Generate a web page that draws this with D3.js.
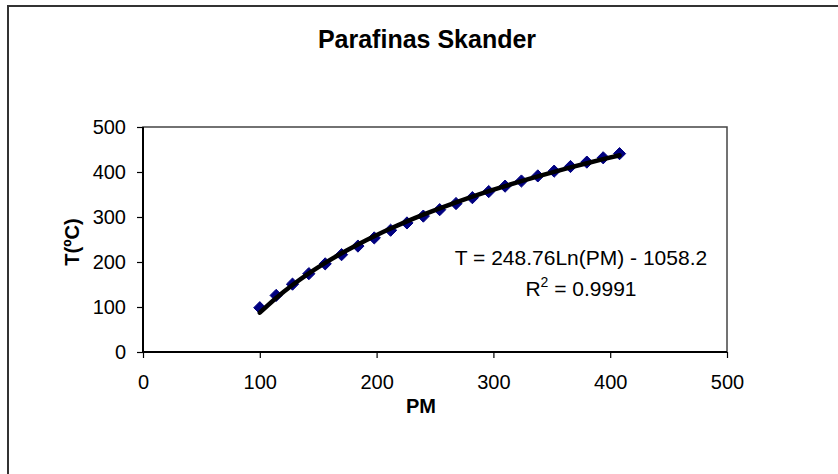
<!DOCTYPE html>
<html>
<head>
<meta charset="utf-8">
<script src="https://d3js.org/d3.v7.min.js"></script>
<style>
  html, body { margin: 0; padding: 0; background: #fff; }
  svg { display: block; }
  text { font-family: "Liberation Sans", Arial, sans-serif; fill: #000; }
</style>
</head>
<body>
<svg id="chart" width="838" height="474"></svg>
<script>
// ---- data ----
const chartTitle = "Parafinas Skander";
const xTitle = "PM";
const yTitle = "T(ºC)";
const pm = [100, 114, 128, 142, 156, 170, 184, 198, 212, 226, 240, 254, 268, 282, 296, 310, 324, 338, 352, 366, 380, 394, 408];
const temp = [98.4, 125.7, 150.8, 174.1, 195.9, 216.3, 235.4, 253.5, 270.6, 286.8, 302.0, 316.3, 329.9, 343.0, 356.5, 368.6, 380.0, 391.3, 401.9, 412.2, 422.0, 431.6, 440.8];
const xTicks = [0, 100, 200, 300, 400, 500];
const yTicks = [0, 100, 200, 300, 400, 500];
const trendA = 248.76;
const trendB = -1058.2;
const eqLine1 = "T = 248.76Ln(PM) - 1058.2";
const r2Value = "0.9991";

// ---- layout ----
const svg = d3.select("#chart");
const plot = { left: 143, right: 727, top: 127, bottom: 352 };

const x = d3.scaleLinear().domain([0, 500]).range([plot.left, plot.right]);
const y = d3.scaleLinear().domain([0, 500]).range([plot.bottom, plot.top]);

// outer chart border
svg.append("rect")
  .attr("x", 8).attr("y", 6)
  .attr("width", 860).attr("height", 500)
  .attr("fill", "#fff")
  .attr("stroke", "#333").attr("stroke-width", 2);

// plot area frame
svg.append("rect")
  .attr("x", plot.left).attr("y", plot.top)
  .attr("width", plot.right - plot.left).attr("height", plot.bottom - plot.top)
  .attr("fill", "#fff")
  .attr("stroke", "#444").attr("stroke-width", 1.5);

// axes
const xAxis = d3.axisBottom(x).tickValues(xTicks).tickSize(6).tickPadding(17);
const yAxis = d3.axisLeft(y).tickValues(yTicks).tickSize(6).tickPadding(11);

const gx = svg.append("g").attr("transform", `translate(0,${plot.bottom})`).call(xAxis);
const gy = svg.append("g").attr("transform", `translate(${plot.left},0)`).call(yAxis);
[gx, gy].forEach(g => {
  g.select(".domain").attr("stroke", "#000").attr("stroke-width", 2);
  g.selectAll(".tick line").attr("stroke", "#000").attr("stroke-width", 1.2);
  g.selectAll(".tick text")
    .style("font-family", '"Liberation Sans", Arial, sans-serif')
    .style("font-size", "20px").attr("fill", "#000");
});
gx.select(".domain").attr("d", `M${plot.left},0H${plot.right}`);
gy.select(".domain").attr("d", `M0,${plot.bottom}V${plot.top}`);

// data points (diamonds)
const pts = pm.map((p, i) => ({ p, t: temp[i] }));
svg.append("g").selectAll("path")
  .data(pts).enter().append("path")
  .attr("d", d3.symbol().type(d3.symbolDiamond2).size(95))
  .attr("transform", d => `translate(${x(d.p)},${y(d.t)})`)
  .attr("fill", "#000080")
  .attr("stroke", "#000080").attr("stroke-width", 1);

// logarithmic trendline
const trend = pm.map(p => ({ p, t: trendA * Math.log(p) + trendB }));
svg.append("path")
  .datum(trend)
  .attr("d", d3.line().x(d => x(d.p)).y(d => y(d.t)).curve(d3.curveNatural))
  .attr("fill", "none")
  .attr("stroke", "#000").attr("stroke-width", 4.5)
  .attr("stroke-linecap", "round");

// title
svg.append("text")
  .attr("x", 427).attr("y", 48)
  .attr("text-anchor", "middle")
  .style("font-size", "25px").style("font-weight", "bold")
  .text(chartTitle);

// axis titles
svg.append("text")
  .attr("x", 421).attr("y", 413)
  .attr("text-anchor", "middle")
  .style("font-size", "20px").style("font-weight", "bold")
  .text(xTitle);

svg.append("text")
  .attr("transform", "translate(79,242) rotate(-90)")
  .attr("text-anchor", "middle")
  .style("font-size", "20px").style("font-weight", "bold")
  .text(yTitle);

// equation label
svg.append("text")
  .attr("x", 581).attr("y", 265)
  .attr("text-anchor", "middle")
  .style("font-size", "21px")
  .text(eqLine1);

const r2 = svg.append("text")
  .attr("x", 581).attr("y", 296)
  .attr("text-anchor", "middle")
  .style("font-size", "21px");
r2.append("tspan").text("R");
r2.append("tspan").attr("dy", -9).style("font-size", "14px").text("2");
r2.append("tspan").attr("dy", 9).text(" = " + r2Value);
</script>
</body>
</html>
